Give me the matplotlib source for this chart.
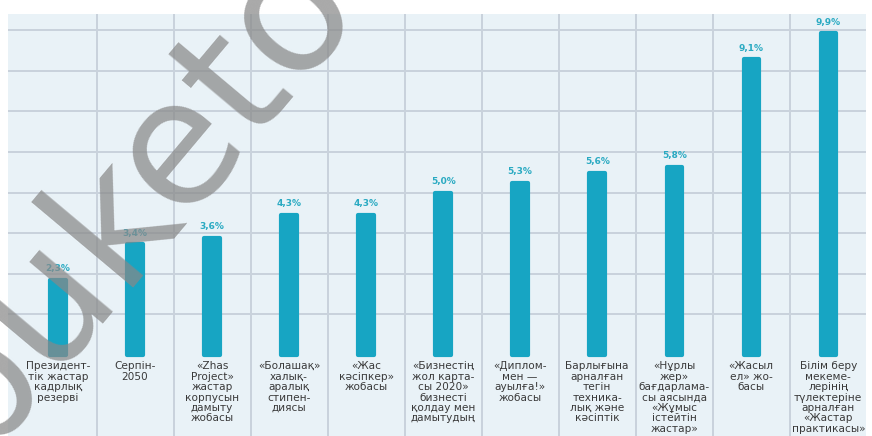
import matplotlib
matplotlib.use("Agg")
import matplotlib.pyplot as plt
import numpy as np

programs = [
    "Президент-\nтік жастар\nкадрлық\nрезерві",
    "Серпін-\n2050",
    "«Zhas\nProject»\nжастар\nкорпусын\nдамыту\nжобасы",
    "«Болашақ»\nхалық-\nаралық\nстипен-\nдиясы",
    "«Жас\nкәсіпкер»\nжобасы",
    "«Бизнестің\nжол карта-\nсы 2020»\nбизнесті\nқолдау мен\nдамытудың",
    "«Диплом-\nмен —\nауылға!»\nжобасы",
    "Барлығына\nарналған\nтегін\nтехника-\nлық және\nкәсіптік",
    "«Нұрлы\nжер»\nбағдарлама-\nсы аясында\n«Жұмыс\nістейтін\nжастар»",
    "«Жасыл\nел» жо-\nбасы",
    "Білім беру\nмекеме-\nлерінің\nтүлектеріне\nарналған\n«Жастар\nпрактикасы»",
]
shares = [2.3, 3.4, 3.6, 4.3, 4.3, 5.0, 5.3, 5.6, 5.8, 9.1, 9.9]
share_labels = ["2,3%", "3,4%", "3,6%", "4,3%", "4,3%", "5,0%",
                "5,3%", "5,6%", "5,8%", "9,1%", "9,9%"]

bar_color = "#17a5c3"
panel_color = "#e9f2f7"
grid_color = "#c9d2dc"

fig = plt.figure(figsize=(8.72, 4.36), dpi=100)
ax = fig.add_axes([8 / 872, 0, 858 / 872, 422 / 436])
ax.set_facecolor(panel_color)

x = np.arange(len(shares))
ax.set_xlim(-0.65, 10.49)
ax.set_ylim(-2.5, 10.5)

# background grid
for g in np.arange(1.25, 10.01, 1.25):
    ax.axhline(g, color=grid_color, lw=1.4, zorder=1)
for v in x[:-1] + 0.5:
    ax.axvline(v, color=grid_color, lw=1.4, zorder=1)

ax.bar(x, shares, width=0.2, color=bar_color, edgecolor=bar_color,
       linewidth=3, joinstyle="round", zorder=2)

for xi, val, lab in zip(x, shares, share_labels):
    ax.annotate(lab, (xi, val), xytext=(0, 5), textcoords="offset points",
                ha="center", va="bottom", fontsize=6.5, fontweight="bold",
                color="#2aaac2", zorder=3)

for xi, name in zip(x, programs):
    ax.text(xi, -0.2, name, ha="center", va="top", fontsize=7.6,
            color="#3a3a3a", linespacing=1.05, zorder=3)

for s in ax.spines.values():
    s.set_visible(False)
ax.set_xticks([])
ax.set_yticks([])

# watermark
fig.text(0.188, 0.64, "buketov", fontsize=125, color="#888888", alpha=0.72,
         rotation=50, ha="center", va="center", rotation_mode="anchor",
         zorder=10)

fig.savefig("out.png", dpi=100)
